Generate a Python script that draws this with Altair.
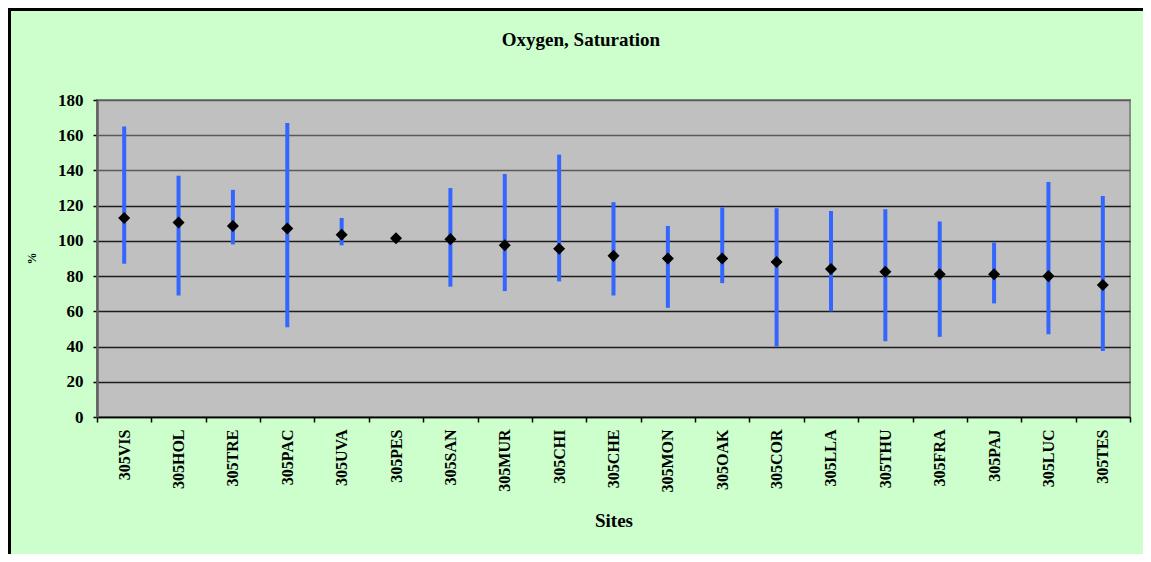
import altair as alt
import pandas as pd

sites = ["305VIS", "305HOL", "305TRE", "305PAC", "305UVA", "305PES", "305SAN",
         "305MUR", "305CHI", "305CHE", "305MON", "305OAK", "305COR", "305LLA",
         "305THU", "305FRA", "305PAJ", "305LUC", "305TES"]
mean_vals = [113, 110.5, 108.5, 107, 103.5, 101.5, 101, 97.5, 95.5, 91.5, 90, 90,
             88, 84, 82.5, 81, 81, 80, 75]
min_vals = [87, 69, 98, 51, 97.5, 100, 74, 71.5, 77, 69, 62, 76, 40, 60, 43,
            45.5, 64.5, 47, 37.5]
max_vals = [165, 137, 129, 167, 113, 103, 130, 138, 149, 122, 108.5, 119, 118.5,
            117, 118, 111, 99, 133.5, 125.5]
y_ticks = [0, 20, 40, 60, 80, 100, 120, 140, 160, 180]
chart_title = "Oxygen, Saturation"

df = pd.DataFrame({"site": sites, "mean": mean_vals, "lo": min_vals, "hi": max_vals})

FONT = "Liberation Serif"
W, H = 1033, 317
PAD = {"left": 89, "top": 92, "right": 13, "bottom": 137}

x_axis = alt.Axis(
    labelAngle=-90, labelFont=FONT, labelFontSize=16, labelFontWeight="bold",
    labelColor="black", labelPadding=7, labelOverlap=False,
    tickSize=5, tickColor="black", tickWidth=1.5, tickBand="extent",
    domainColor="black", domainWidth=1.5, grid=False,
    title="Sites", titleFont=FONT, titleFontSize=19, titleFontWeight="bold",
    titleColor="black", titleY=103, titleBaseline="middle",
)
y_axis = alt.Axis(
    values=y_ticks, tickCount=10, grid=True, labelOverlap=False, labelFlush=False,
    gridColor={"condition": {"test": "datum.value >= 140", "value": "#5a5a5a"},
               "value": "#1c1c1c"},
    gridWidth=1.6, tickSize=4, tickColor="black", tickWidth=1.5,
    domainColor="#606060", domainWidth=2.5,
    labelFont=FONT, labelFontSize=17, labelFontWeight="bold", labelColor="black",
    labelPadding=10,
    title="%", titleFont=FONT, titleFontSize=12, titleFontWeight="bold",
    titleColor="black", titleX=-59, titleY=158,
)
y_scale = alt.Scale(domain=[0, 180], nice=False)

base = alt.Chart(df).encode(
    x=alt.X("site:N", sort=sites, scale=alt.Scale(paddingInner=0, paddingOuter=0), axis=x_axis)
)
ranges = base.mark_rule(color="#3366FF", strokeWidth=4).encode(
    y=alt.Y("lo:Q", scale=y_scale, axis=y_axis),
    y2="hi:Q",
)
points = base.mark_point(shape="diamond", filled=True, color="black", size=145, opacity=1).encode(
    y=alt.Y("mean:Q", scale=y_scale, axis=y_axis)
)

frame_df = pd.DataFrame({"k": [0]})
left_border = alt.Chart(frame_df).mark_rule(color="black", strokeWidth=3, clip=False).encode(
    x=alt.value(-PAD["left"] + 1.5), y=alt.value(-PAD["top"]), y2=alt.value(H + PAD["bottom"])
)
top_border = alt.Chart(frame_df).mark_rule(color="black", strokeWidth=3, clip=False).encode(
    y=alt.value(-PAD["top"] + 1.5), x=alt.value(-PAD["left"]), x2=alt.value(W + PAD["right"])
)
title_df = pd.DataFrame({"t": [chart_title]})
title_mark = alt.Chart(title_df).mark_text(
    font=FONT, fontSize=19, fontWeight="bold", color="black",
    align="center", baseline="middle", clip=False,
).encode(text="t:N", x=alt.value(484), y=alt.value(-60))

chart = alt.layer(left_border, top_border, ranges, points, title_mark).properties(
    width=W, height=H, padding=PAD, autosize="none",
).configure(background="#CCFFCC").configure_view(fill="#C0C0C0", stroke="#8a8a8a", strokeWidth=2)

chart.save("out.html", embed_options={"renderer": "svg", "actions": False})
